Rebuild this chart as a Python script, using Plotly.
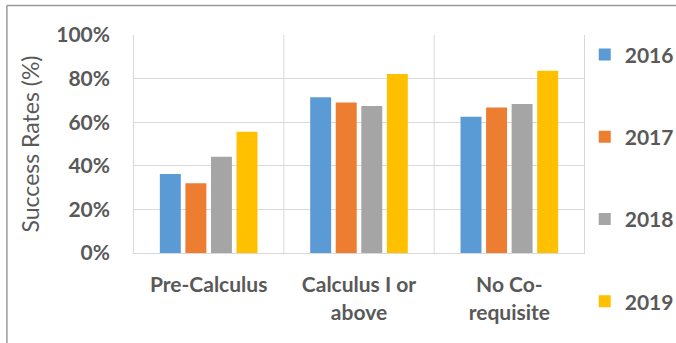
import plotly.graph_objects as go

categories = ["Pre-Calculus", "Calculus I or<br>above", "No Co-<br>requisite"]
years = ["2016", "2017", "2018", "2019"]
rates_2016 = [0.362, 0.714, 0.625]
rates_2017 = [0.320, 0.690, 0.667]
rates_2018 = [0.442, 0.674, 0.683]
rates_2019 = [0.556, 0.821, 0.836]
colors = ["#5B9BD5", "#ED7D31", "#A5A5A5", "#FFC000"]

series = [rates_2016, rates_2017, rates_2018, rates_2019]
text_color = "#595959"
font_family = "Lato"

fig = go.Figure()
for year, vals, col in zip(years, series, colors):
    fig.add_trace(go.Bar(
        x=categories, y=vals, name=year, marker_color=col,
        marker_line_width=0, legendgroup=year,
    ))

# category separators (vertical gridlines at category boundaries)
shapes = []
for i in range(len(categories) + 1):
    shapes.append(dict(type="line", xref="x", yref="paper",
                       x0=i - 0.5, x1=i - 0.5, y0=0, y1=1,
                       line=dict(color="#D9D9D9", width=1), layer="below"))
# outer frame lines (top and left)
shapes.append(dict(type="line", xref="paper", yref="paper",
                   x0=-0.279, x1=1.3, y0=1.135, y1=1.135,
                   line=dict(color="#9A9A9A", width=1.5)))
shapes.append(dict(type="line", xref="paper", yref="paper",
                   x0=-0.279, x1=-0.279, y0=-0.5, y1=1.135,
                   line=dict(color="#9A9A9A", width=1.5)))

fig.update_layout(
    width=676, height=343,
    margin=dict(l=133, r=91, t=35, b=90, autoexpand=False),
    paper_bgcolor="white", plot_bgcolor="white",
    barmode="group", bargap=0.32, bargroupgap=0.18,
    font=dict(family=font_family, color=text_color),
    shapes=shapes,
    legend=dict(
        xref="container", yref="container",
        x=0.865, xanchor="left", y=0.90, yanchor="top",
        maxheight=340,
        font=dict(size=21, family=font_family, color=text_color, weight="bold"),
        tracegroupgap=52, traceorder="grouped",
        bgcolor="rgba(0,0,0,0)",
    ),
    xaxis=dict(
        showgrid=False, showline=True, linecolor="#D9D9D9", linewidth=1,
        ticks="outside", ticklen=13, tickcolor="rgba(0,0,0,0)",
        tickfont=dict(size=21, family=font_family, color=text_color, weight="bold"),
    ),
    yaxis=dict(
        range=[0, 1], dtick=0.2, tickformat=".0%",
        showgrid=True, gridcolor="#D9D9D9", gridwidth=1,
        zeroline=False, showline=False,
        ticklabelstandoff=22,
        tickfont=dict(size=21, family=font_family, color=text_color, weight="bold"),
        title=dict(text="Success Rates (%)", standoff=10,
                   font=dict(size=23, family=font_family, color=text_color)),
        automargin=False,
    ),
)
fig.update_xaxes(automargin=False)

fig.write_html("out.html")
